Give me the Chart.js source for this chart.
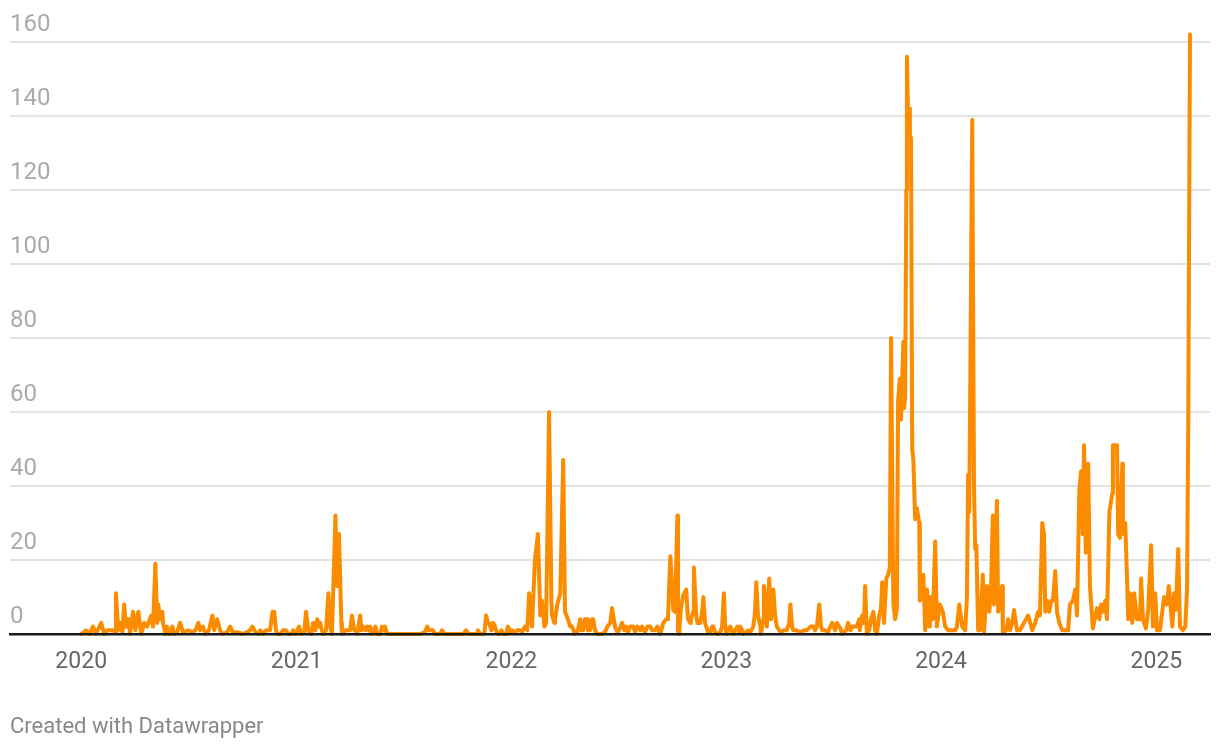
<!DOCTYPE html>
<html>
<head>
<meta charset="utf-8">
<script src="https://cdn.jsdelivr.net/npm/chart.js@4.4.1/dist/chart.umd.min.js"></script>
<style>
  html, body { margin:0; padding:0; background:#fff; }
  #wrap { position:relative; width:1220px; height:752px; }
  #credit { position:absolute; left:10px; top:713px; font:22px Roboto, sans-serif; color:#888; }
</style>
</head>
<body>
<div id="wrap">
  <canvas id="chart" width="1220" height="752"></canvas>
  <div id="credit">Created with Datawrapper</div>
</div>
<script>
// --- data (x = days since 2020-01-01) ---
const days = [
  0,5,8,14,20,25,34,39,44,54,58,59,63,66,70,73,76,80,83,88,92,97,102,107,112,114,119,122,126,129,131,134,138,139,143,146,150,155,158,163,168,173,182,189,194,199,202,207,211,217,223,226,231,236,240,248,253,258,265,274,282,287,291,296,301,
  304,309,314,321,325,328,331,333,338,343,348,352,357,360,364,370,374,379,382,386,387,391,394,398,401,403,406,409,411,416,420,423,426,432,435,438,442,443,449,454,457,460,464,466,469,474,476,479,483,486,489,491,494,500,503,508,511,515,516,520,525,576,584,588,591,595,598,601,610,613,617,627,
  649,654,658,673,674,678,685,688,691,693,697,700,703,707,710,714,717,722,725,729,732,737,741,746,749,754,758,761,765,766,771,776,780,783,787,790,795,799,800,804,805,809,814,819,822,827,831,834,839,843,848,850,853,856,860,861,865,868,870,873,877,882,885,890,894,899,902,906,907,911,914,919,923,926,929,933,938,941,945,
  950,953,958,962,967,970,975,979,982,984,989,994,997,1001,1004,1006,1009,1013,1014,1016,1019,1023,1028,1031,1035,1036,1040,1041,1045,1047,1052,1055,1057,1060,1062,1065,1069,1072,1074,1077,1082,1086,1089,1092,1094,1096,1099,1103,1106,1108,1111,1115,1118,1120,1123,1125,1130,1133,1137,1142,1145,1147,1150,1154,1155,1159,1160,1164,1165,1169,1171,1172,1176,1179,1182,1186,1189,1194,1199,1203,1205,1208,1210,1215,1222,1228,1233,1239,1244,1247,1250,1254,1257,1259,1264,1269,1273,
  1276,1281,1284,1290,1293,1296,1300,1303,1307,1310,1315,1318,1322,1323,1327,1330,1332,1335,1339,1342,1346,1349,1352,1356,1359,1361,1364,1368,1371,1374,1376,1380,1383,1386,1388,1391,1393,1397,1398,1400,1402,1403,1405,1407,1408,1410,1412,1414,1417,1420,1424,1425,1431,1434,1437,1441,1442,1447,1451,1454,1459,1464,1468,1473,1480,1485,1488,1492,1497,1502,1505,1507,1509,1514,1517,1519,1521,1524,
  1527,1532,1534,1539,1543,1546,1549,1551,1556,1558,1565,1566,1572,1575,1578,1582,1585,1590,1595,1602,1609,1616,1621,1626,1629,1633,1636,1638,1641,1645,1648,1651,1655,1658,1662,1667,1672,1677,1680,1685,1689,1692,1696,1699,1702,1704,1707,1711,1714,1719,1726,1730,1733,1736,1740,1743,1747,1752,1753,1760,1762,1765,1769,1770,1774,1777,1779,1782,1786,1789,1794,1799,1801,1804,1809,1813,1818,1821,1825,1828,1833,1840,1845,1848,1854,1857,1860,1864,1867,1872,1876,1879,1881,1884
];
const counts = [
  0,0.5,1,0,2,0,3,0,1,1,0.5,11,1,3,0.5,8,2,4,0,6,1,6,0,3,2,3,5,2,19,3,8,4,6,3,0,2,0,2,0,0.5,3,0.5,1,0.5,1,3,1,2,0,1,5,1,4,1,0,0.5,2,0.5,0.5,0,0.5,1,2,0.5,0,
  1,0,1,1,6,6,1,0,0,1,1,0,0,1,0,2,0,0.5,6,1,0.5,0,3,1,4,2,3,1,0,1,11,2,0,32,13,27,3,0,1,1,1,5,1,1,0,5,1,2,1,2,1,2,0,2,0,0,2,1,2,0,0,0,0.5,2,1,1,1,0,0,1,0,0,
  0,1,0,0,1,0,0,5,3,3,1,3,2,0,0,1,0,0,2,0.5,1,0.5,1,1,0.5,2,1,11,4,2,20,27,5,9,2,3,60,8,5,3,4,8,11,47,6,4,2,2,0,0.5,4,1,1,4,4,1,1,4,4,1,0,0,0,0.5,2,3,7,3,2,0.5,1,3,1,2,0.5,2,2,0.5,2,
  1,2,0.5,2,2,1,1,2,0.5,0,3,4,4,21,13,6.5,6,32,1,0,7,10.5,12,4,3,4,6,18,5,3,3,6,10,3,2,0.5,0.5,2,2,0.5,0,0.5,2,11,3,0,1,2,0.5,0,1,2,0.5,2,1,0,0.5,1,0.5,2,6,14,5,2,0,4,13,5,2,15,8,4,12,5,2,1,0.5,1,1,3,8,2,1,1,0.5,1,1,2,2,1,2,8,2,1,1,0.5,2,
  3,1,3,1.5,0,0.5,1,3,1,2,2,2,4,1,5,3,13,0,1,4,6,1,0,5,7,14,3,15,16,18,80,8,4,7,63,69,58,79,61,64,120,156,140,142,135,134,50,47,31,34,30,9,16,1,12,2,10,4,25,2,8,6,2,1,1,1,2,8,2,1,10,43,33,139,40,23,24,1,
  1,16,0.5,13,6,13,32,8,36,6,13,0.5,1,4,1,3,6.5,1,1,3,5,1,3,6,5,30,27,6,9,6,9,9,17,6,3,1,1,1,8,9,12,5,39,44,27,51,22,46,13,1.5,7,4,8,6,9,4,33,38,51,51,27,26,46,27,30,15,4,11,3,11,4,4,15,4,1.5,6.5,24,2,11,1,1,10,8,13,2,11,6.5,23,2,1,2,12,56,162
];
const yearDays   = [0, 366, 731, 1096, 1461, 1827];
const yearLabels = ['2020', '2021', '2022', '2023', '2024', '2025'];
const yTicks     = [0, 20, 40, 60, 80, 100, 120, 140, 160];

// --- chart ---
const ctx = document.getElementById('chart').getContext('2d');
new Chart(ctx, {
  type: 'line',
  data: {
    datasets: [{
      data: days.map((d, i) => ({ x: d, y: counts[i] })),
      borderColor: '#fb8c00',
      borderWidth: 4,
      pointRadius: 0,
      tension: 0,
      fill: false,
      borderJoinStyle: 'round',
      borderCapStyle: 'round',
      clip: false
    }]
  },
  options: {
    responsive: false,
    animation: false,
    devicePixelRatio: 1,
    layout: { padding: { left: 10, right: 10, top: 42, bottom: 58 } },
    plugins: { legend: { display: false }, tooltip: { enabled: false } },
    scales: {
      x: {
        type: 'linear', min: -121, max: 1918,
        grid: { display: false, drawTicks: false },
        border: { display: true, color: '#1a1a1a', width: 2.5, z: 1 },
        afterBuildTicks: s => { s.ticks = yearDays.map(v => ({ value: v })); },
        afterFit: s => { s.height = 60; },
        ticks: {
          autoSkip: false, maxRotation: 0, padding: 14,
          color: '#666', font: { family: 'Roboto', size: 23 },
          callback: (v, i) => yearLabels[i]
        }
      },
      y: {
        min: 0, max: 160,
        afterBuildTicks: s => { s.ticks = yTicks.map(v => ({ value: v })); },
        afterFit: s => { s.width = 0; },
        border: { display: false },
        grid: { drawTicks: false, color: '#e3e3e3', lineWidth: 2 },
        ticks: {
          mirror: true, padding: 0, labelOffset: -17,
          color: '#aaa', font: { family: 'Roboto', size: 24 }
        }
      }
    }
  }
});
</script>
</body>
</html>
